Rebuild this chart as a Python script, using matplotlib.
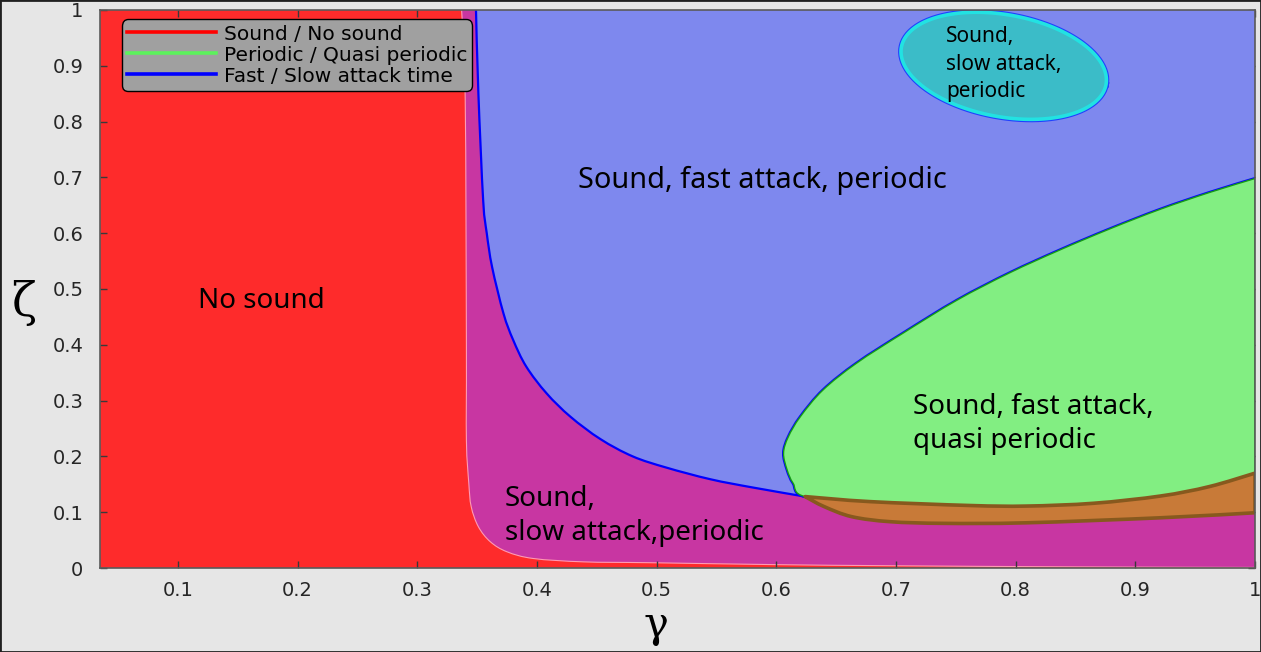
#!/usr/bin/env python3

'''
    Regime map of the (gamma, zeta) plane: sound / no sound,
    fast / slow attack, periodic / quasi periodic.
'''

import numpy as np
import matplotlib
matplotlib.use("Agg")
import matplotlib.pyplot as plt
from matplotlib.patches import PathPatch, Rectangle
from matplotlib.path import Path


# --- boundaries (gamma, zeta) ---

# sound / no sound frontier, from top to bottom-right
soundX = [0.337, 0.340, 0.341, 0.341, 0.343, 0.345, 0.351, 0.361, 0.375, 0.397, 0.439, 0.494, 0.600, 0.700, 0.850, 1.000]
soundY = [1.000, 0.840, 0.400, 0.229, 0.152, 0.110, 0.074, 0.047, 0.029, 0.017, 0.011, 0.0095, 0.006, 0.004, 0.002, 0.001]

# fast / slow attack frontier, from top to the quasi periodic tongue
attackX = [0.349, 0.351, 0.355, 0.358, 0.3625, 0.372, 0.380, 0.391, 0.408, 0.428, 0.453, 0.480, 0.508, 0.545, 0.581, 0.624]
attackY = [1.000, 0.851, 0.659, 0.600, 0.539, 0.456, 0.409, 0.361, 0.313, 0.271, 0.231, 0.200, 0.180, 0.159, 0.144, 0.128]

# periodic / quasi periodic tongue: upper and lower edges, from the tip to gamma = 1
quasiUpX = [0.606, 0.610, 0.620, 0.639, 0.667, 0.706, 0.751, 0.795, 0.837, 0.879, 0.921, 0.962, 1.000]
quasiUpY = [0.206, 0.235, 0.271, 0.319, 0.367, 0.421, 0.480, 0.529, 0.570, 0.608, 0.643, 0.673, 0.698]
quasiLowX = [0.606, 0.609, 0.614, 0.624, 0.678, 0.762, 0.809, 0.865, 0.921, 0.962, 1.000]
quasiLowY = [0.206, 0.176, 0.152, 0.128, 0.119, 0.112, 0.111, 0.116, 0.129, 0.146, 0.170]

# lower edge of the brown band under the tongue
bandLowX = [0.624, 0.640, 0.663, 0.695, 0.740, 0.809, 0.921, 1.000]
bandLowY = [0.128, 0.110, 0.092, 0.083, 0.080, 0.081, 0.090, 0.099]

# slow attack island (ellipse): centre, semi axes in pixels, tilt in degrees
islandCentre = (0.790, 0.900)
islandAxesPx = (104, 51)
islandTilt = 10.4

legendNames = ["Sound / No sound", "Periodic / Quasi periodic", "Fast / Slow attack time"]
legendColors = ["#ff0000", "#5cf25c", "#0000ff"]

xTicks = [0.1, 0.2, 0.3, 0.4, 0.5, 0.6, 0.7, 0.8, 0.9, 1.0]
xTickLabels = ["0.1", "0.2", "0.3", "0.4", "0.5", "0.6", "0.7", "0.8", "0.9", "1"]
yTicks = [0.0, 0.1, 0.2, 0.3, 0.4, 0.5, 0.6, 0.7, 0.8, 0.9, 1.0]
yTickLabels = ["0", "0.1", "0.2", "0.3", "0.4", "0.5", "0.6", "0.7", "0.8", "0.9", "1"]

XMIN, XMAX = 0.0348, 1.0

RED = "#fe2b2b"
MAGENTA = "#c836a2"
BLUE = "#7e88ee"
GREEN = "#82ee82"
BROWN = "#c87a38"
BROWN_EDGE = "#87591e"
CYAN = "#3bbcc8"
CYAN_EDGE = "#22e2e2"


def curvePiece(xs, ys, smooth=True):
    '''Bezier pieces through the read points (Catmull-Rom handles).'''
    pts = np.column_stack([xs, ys]).astype(float)
    n = len(pts)
    verts, codes = [], []
    for i in range(n - 1):
        p1, p2 = pts[i], pts[i + 1]
        if smooth:
            p0 = pts[max(i - 1, 0)]
            p3 = pts[min(i + 2, n - 1)]
            verts += [p1 + (p2 - p0) / 6, p2 - (p3 - p1) / 6, p2]
            codes += [Path.CURVE4] * 3
        else:
            verts.append(p2)
            codes.append(Path.LINETO)
    return pts[0], verts, codes


def buildPath(pieces, closed=True):
    verts, codes = [], []
    for k, (xs, ys, smooth) in enumerate(pieces):
        start, v, c = curvePiece(xs, ys, smooth)
        verts.append(start)
        codes.append(Path.MOVETO if k == 0 else Path.LINETO)
        verts += v
        codes += c
    if closed:
        verts.append(verts[0])
        codes.append(Path.CLOSEPOLY)
    return Path(verts, codes)


def addRegion(ax, pieces, color, edge="none", lw=0, z=1):
    patch = PathPatch(buildPath(pieces), facecolor=color, edgecolor=edge,
                      linewidth=lw, zorder=z, joinstyle="round")
    ax.add_patch(patch)


def addCurve(ax, xs, ys, color, lw, z):
    patch = PathPatch(buildPath([(xs, ys, True)], closed=False), facecolor="none",
                      edgecolor=color, linewidth=lw, zorder=z, capstyle="round")
    ax.add_patch(patch)


def regimeMap():
    fig = plt.figure(figsize=(12.61, 6.52), dpi=100, facecolor="#e6e6e6")
    ax = fig.add_axes([100 / 1261, 84 / 652, 1155 / 1261, 558 / 652])
    ax.set_xlim(XMIN, XMAX)
    ax.set_ylim(0, 1)
    ax.set_facecolor(MAGENTA)

    # no sound (left)
    addRegion(ax, [([1.0, XMIN, XMIN], [0.0, 0.0, 1.0], False),
                   (soundX, soundY, True)], RED, z=1)
    addCurve(ax, soundX, soundY, "#ff9ab4", 0.8, 1.5)

    # fast attack (top right)
    addRegion(ax, [(attackX, attackY, True),
                   (quasiLowX[3:], quasiLowY[3:], True),
                   ([1.0, 1.0], [1.0, 1.0], False)], BLUE, z=2)
    addCurve(ax, attackX, attackY, "#0000ff", 1.6, 2.5)

    # quasi periodic tongue
    tongueX = quasiUpX[::-1] + quasiLowX[1:]
    tongueY = quasiUpY[::-1] + quasiLowY[1:]
    addCurve(ax, quasiUpX[::-1] + quasiLowX[1:5], quasiUpY[::-1] + quasiLowY[1:5], "#0000ff", 2.2, 3)
    addRegion(ax, [(tongueX, tongueY, True)], GREEN, edge="#169c16", lw=1.0, z=3.2)

    # brown band below the tongue
    addRegion(ax, [(quasiLowX[3:], quasiLowY[3:], True),
                   (bandLowX[::-1], bandLowY[::-1], True)],
              BROWN, edge=BROWN_EDGE, lw=2.6, z=3.4)

    # slow attack island
    xPerPx = (XMAX - XMIN) / 1155
    yPerPx = 1.0 / 558
    t = np.linspace(0, 2 * np.pi, 200)
    th = np.radians(islandTilt)
    a, b = islandAxesPx
    dxPx = a * np.cos(t) * np.cos(th) - b * np.sin(t) * np.sin(th)
    dyPx = a * np.cos(t) * np.sin(th) + b * np.sin(t) * np.cos(th)
    ellX = islandCentre[0] + dxPx * xPerPx
    ellY = islandCentre[1] - dyPx * yPerPx
    ax.plot(ellX, ellY, color="#2040ff", lw=4.2, zorder=4)
    ax.fill(ellX, ellY, facecolor=CYAN, edgecolor=CYAN_EDGE, linewidth=2.6, zorder=4.2)

    # region names
    txt = dict(family=["Noto Sans", "DejaVu Sans"], color="black", zorder=6)
    ax.text(0.1695, 0.478, "No sound", fontsize=20, ha="center", va="center", **txt)
    ax.text(0.434, 0.695, "Sound, fast attack, periodic", fontsize=20.8, ha="left", va="center", **txt)
    ax.text(0.373, 0.093, "Sound,\nslow attack,periodic", fontsize=20, ha="left", va="center",
            linespacing=1.32, **txt)
    ax.text(0.714, 0.258, "Sound, fast attack,\nquasi periodic", fontsize=20, ha="left", va="center",
            linespacing=1.32, **txt)
    ax.text(0.742, 0.903, "Sound,\nslow attack,\nperiodic", fontsize=15, ha="left", va="center",
            linespacing=1.42, **txt)

    # axes, ticks
    ax.set_xticks(xTicks)
    ax.set_xticklabels(xTickLabels)
    ax.set_yticks(yTicks)
    ax.set_yticklabels(yTickLabels)
    ax.tick_params(direction="in", top=True, right=True, length=5, width=1, color="#3a3a3a",
                   labelsize=14, labelcolor="#262626")
    ax.tick_params(axis="y", pad=12)
    ax.tick_params(axis="x", pad=9)
    for s in ax.spines.values():
        s.set_color("#5a5a5a")
        s.set_linewidth(1.2)
        s.set_zorder(7)

    ax.set_xlabel("γ", fontsize=30, family="DejaVu Serif", va="center")
    ax.set_ylabel("ζ", fontsize=33, family="DejaVu Serif", rotation=0, va="center", ha="center")
    ax.xaxis.set_label_coords(0.481, -0.102)
    ax.yaxis.set_label_coords(-0.066, 0.475)

    handles = [plt.Line2D([], [], color=c, lw=2.6) for c in legendColors]
    leg = ax.legend(handles, legendNames, loc="upper left", bbox_to_anchor=(0.019, 0.983),
                    borderaxespad=0, fontsize=14.5, handlelength=4.4, handletextpad=0.4,
                    labelspacing=0.1, borderpad=0.25, fancybox=True, framealpha=1,
                    facecolor="#a0a0a0", edgecolor="black")
    leg.get_frame().set_boxstyle("round", pad=0.0, rounding_size=0.3)
    leg.set_zorder(8)

    fig.patches.append(Rectangle((0, 0), 1, 1, transform=fig.transFigure, fill=False,
                                 edgecolor="#202020", linewidth=2))

    fig.savefig("out.png", dpi=100, facecolor=fig.get_facecolor())


if __name__ == "__main__":
    regimeMap()
